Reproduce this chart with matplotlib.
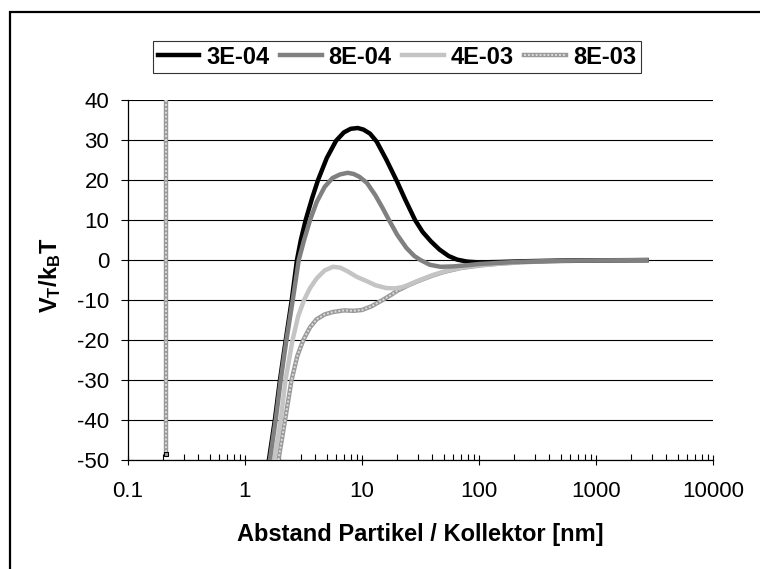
import matplotlib
matplotlib.use("Agg")
import matplotlib.pyplot as plt
from matplotlib.patches import Rectangle
from matplotlib.legend_handler import HandlerTuple
from matplotlib.ticker import FixedLocator, FixedFormatter, LogLocator, NullFormatter

plt.rcParams['font.family'] = ['Liberation Sans', 'DejaVu Sans']
plt.rcParams['mathtext.fontset'] = 'custom'
plt.rcParams['mathtext.rm'] = 'Liberation Sans'
plt.rcParams['mathtext.bf'] = 'Liberation Sans:bold'
plt.rcParams['mathtext.it'] = 'Liberation Sans:italic'
plt.rcParams['axes.unicode_minus'] = False

# ---- data ----
series_names = ['3E-04', '8E-04', '4E-03', '8E-03']

x_3e04 = [1.60, 1.80, 1.99, 2.23, 2.51, 2.78, 3.0, 3.3, 3.75, 4.21, 5.0, 6.0, 7.0, 8.0, 9.2,
          10.3, 11.7, 13.35, 16.2, 19.8, 23.5, 28.4, 33, 39, 46, 55, 65, 79, 100, 150, 250, 500, 1000, 2700]
v_3e04 = [-50, -40, -30, -20, -10, 0, 5, 10, 15.5, 20, 25.5, 29.8, 31.9, 32.8, 33.0,
          32.6, 31.6, 29.6, 25, 19.8, 15, 10, 7, 4.6, 2.6, 1.0, 0.1, -0.4, -0.6, -0.5, -0.3, -0.15, -0.07, -0.02]

x_8e04 = [1.63, 1.83, 2.02, 2.26, 2.56, 2.88, 3.2, 3.6, 4.1, 4.8, 5.6, 6.5, 7.55, 8.5, 9.5, 11, 13, 15,
          17, 20, 24, 28, 31.6, 38, 47, 60, 80, 100, 150, 250, 500, 1000, 2700]
v_8e04 = [-50, -40, -30, -20, -10, 0, 5, 10, 14.5, 18.3, 20.5, 21.4, 21.8, 21.5, 20.8, 19.3, 16.2, 13,
          10, 6.3, 3.0, 1.0, 0, -1.2, -1.7, -1.6, -1.3, -1.0, -0.7, -0.4, -0.2, -0.1, -0.03]

x_4e03 = [1.78, 2.02, 2.22, 2.55, 2.85, 3.2, 3.6, 4.1, 4.8, 5.65, 6.5, 7.5, 9, 11, 13, 16, 19, 22,
          25, 30, 40, 50, 70, 100, 150, 250, 500, 1000, 2700]
v_4e03 = [-50, -40, -30, -20, -14, -10, -7, -4.6, -2.6, -1.7, -1.9, -2.8, -4.2, -5.3, -6.3, -7.0, -7.1, -6.8,
          -6.2, -5.2, -3.8, -2.9, -1.9, -1.3, -0.9, -0.5, -0.25, -0.12, -0.04]

x_8e03 = [1.93, 2.2, 2.5, 2.8, 3.15, 3.6, 4.1, 4.8, 5.65, 7, 8.5, 10, 12, 15, 18, 20, 25, 30, 40, 50,
          70, 100, 150, 250, 500, 1000, 2700]
v_8e03 = [-50, -40, -30, -24, -20, -16.8, -14.8, -13.6, -13.0, -12.6, -12.7, -12.5, -11.6, -10.0, -8.6, -7.7,
          -6.3, -5.3, -3.9, -3.0, -2.0, -1.4, -0.9, -0.5, -0.25, -0.12, -0.04]

# first points of the 8E-03 series (off-scale spike)
x_8e03_spike = [0.21, 0.21]
v_8e03_spike = [1000, -48.6]

xtick_values = [0.1, 1, 10, 100, 1000, 10000]
xtick_labels = ['0.1', '1', '10', '100', '1000', '10000']
ytick_values = [40, 30, 20, 10, 0, -10, -20, -30, -40, -50]

W, H = 760, 569
fig = plt.figure(figsize=(W / 100, H / 100), dpi=100)
ax = fig.add_axes([128 / W, 1 - 460 / H, (713 - 128) / W, 360 / H])

lw = 3.2
c_black, c_dark, c_light, c_tex = '#000000', '#808080', '#c4c4c4', '#9a9a9a'
c_tex_dots = '#dcdcdc'

ax.plot(x_8e03_spike, v_8e03_spike, color=c_tex, lw=lw, solid_capstyle='butt', zorder=3)
ax.plot(x_8e03_spike, v_8e03_spike, color=c_tex_dots, lw=1.4, ls=(0, (1, 1)), zorder=3.1)
ax.plot(x_8e03_spike[-1:], v_8e03_spike[-1:], marker='s', ms=3, mfc='#a0a0a0', mec='black', mew=0.8,
        ls='none', zorder=3.2)

l4a, = ax.plot(x_8e03, v_8e03, color=c_tex, lw=lw, zorder=3)
l4b, = ax.plot(x_8e03, v_8e03, color=c_tex_dots, lw=1.4, ls=(0, (1, 1)), zorder=3.1)
l3, = ax.plot(x_4e03, v_4e03, color=c_light, lw=lw, zorder=3.3)
l1, = ax.plot(x_3e04, v_3e04, color=c_black, lw=lw, zorder=3.4)
l2, = ax.plot(x_8e04, v_8e04, color=c_dark, lw=lw, zorder=3.5)

ax.set_xscale('log')
ax.set_xlim(0.1, 10000)
ax.set_ylim(-50, 40)

ax.xaxis.set_major_locator(FixedLocator(xtick_values))
ax.xaxis.set_major_formatter(FixedFormatter(xtick_labels))
ax.xaxis.set_minor_locator(LogLocator(base=10, subs=range(2, 10), numticks=20))
ax.xaxis.set_minor_formatter(NullFormatter())
ax.yaxis.set_major_locator(FixedLocator(ytick_values))

ax.tick_params(axis='x', which='major', direction='inout', length=6.5, width=0.8, pad=12,
               labelsize=16, colors='black')
ax.tick_params(axis='x', which='minor', direction='in', length=4.3, width=0.8)
ax.tick_params(axis='y', which='major', direction='out', length=5, width=0.8, pad=8.5,
               labelsize=16)

ax.yaxis.grid(True, color='black', lw=0.8)
ax.set_axisbelow(True)
for s in ['top', 'right']:
    ax.spines[s].set_visible(False)
for s in ['left', 'bottom']:
    ax.spines[s].set_linewidth(0.9)
    ax.spines[s].set_zorder(2.5)

ax.set_xlabel('Abstand Partikel / Kollektor [nm]', fontsize=17, fontweight='bold')
ax.xaxis.set_label_coords(0.5, (460 - 535) / 360)
ax.xaxis.label.set_va('center')
ax.set_ylabel(r'$\mathbf{V_T/k_BT}$', fontsize=17)
ax.yaxis.set_label_coords((50 - 128) / 585, (460 - 275) / 360)
ax.yaxis.label.set_va('center')

leg = fig.legend([l1, l2, l3, (l4a, l4b)], series_names, loc='center',
                 bbox_to_anchor=(397 / W, 1 - 57 / H), ncol=4, frameon=True, fancybox=False,
                 handler_map={tuple: HandlerTuple(ndivide=1, pad=0)},
                 prop={'weight': 'bold', 'size': 17}, handlelength=1.75, handletextpad=0.3,
                 columnspacing=0.45, borderpad=0.2, borderaxespad=0)
leg.get_frame().set_edgecolor('black')
leg.get_frame().set_linewidth(0.8)

fig.patches.append(Rectangle((10 / W, -0.1), 2, 1.1 - 12 / H, transform=fig.transFigure,
                             fill=False, ec='black', lw=1.6))

fig.savefig('out.png', dpi=100)
